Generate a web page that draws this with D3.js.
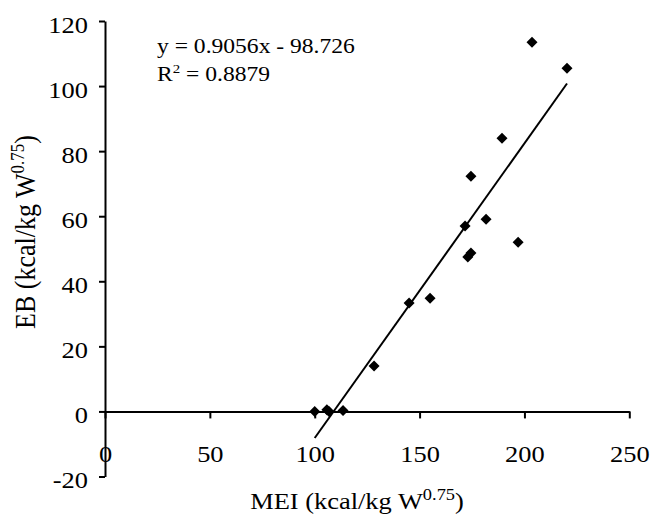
<!DOCTYPE html>
<html>
<head>
<meta charset="utf-8">
<script src="https://cdn.jsdelivr.net/npm/d3@7"></script>
<style>
  body { margin: 0; background: #fff; }
  svg { display: block; }
  text { font-family: "Liberation Serif", "Times New Roman", serif; fill: #000; }
</style>
</head>
<body>
<svg id="chart" width="651" height="515"></svg>
<script>
// MEI vs EB
const mei = [100, 105.8, 106.8, 113.5, 128.3, 145, 155, 171.7, 173, 174.5, 174.5, 181.7, 189.3, 197, 203.6, 220.3];
const eb  = [0, 0.5, 0, 0.3, 14, 33.3, 34.8, 57, 47.5, 48.7, 72.3, 59.1, 84, 52, 113.5, 105.5];

const xTicks = [0, 50, 100, 150, 200, 250];
const yTicks = [-20, 0, 20, 40, 60, 80, 100, 120];

const slope = 0.9056, intercept = -98.726;

const SX = 1.15; // the original picture is a bit wider than tall

const svg = d3.select("#chart");

const x = d3.scaleLinear().domain([0, 250]).range([105, 629.3]);
const y = d3.scaleLinear().domain([-20, 120]).range([476.5, 21]);

// plain hyphen for negatives, like the original
const fmt = d => String(d);

// y axis
const yAxis = svg.append("g")
  .attr("transform", `translate(${x(0)},0)`)
  .call(d3.axisLeft(y).tickValues(yTicks).tickSizeInner(6).tickSizeOuter(0).tickFormat(fmt));

yAxis.select(".domain").attr("stroke-width", 2);
yAxis.selectAll(".tick line").attr("stroke-width", 2);
yAxis.selectAll(".tick text")
  .attr("x", -17 / SX)
  .attr("dy", null)
  .attr("y", 11)
  .attr("transform", `scale(${SX},1)`)
  .attr("font-size", "23px");

// x axis sits on y = 0
const xAxis = svg.append("g")
  .attr("transform", `translate(0,${y(0)})`)
  .call(d3.axisBottom(x).tickValues(xTicks).tickSizeInner(7).tickSizeOuter(0).tickFormat(fmt));

xAxis.select(".domain").attr("stroke-width", 2);
xAxis.selectAll(".tick line").attr("stroke-width", 2);
xAxis.selectAll(".tick text")
  .attr("dy", null)
  .attr("y", 50.5)
  .attr("x", 0)
  .attr("transform", `scale(${SX},1)`)
  .attr("font-size", "23px");

svg.selectAll(".domain, .tick line").attr("stroke", "#000");

// trend line over the data range
const xMin = d3.min(mei), xMax = d3.max(mei);
svg.append("line")
  .attr("x1", x(xMin)).attr("y1", y(slope * xMin + intercept))
  .attr("x2", x(xMax)).attr("y2", y(slope * xMax + intercept))
  .attr("stroke", "#000")
  .attr("stroke-width", 2);

// diamond markers
const pts = mei.map((m, i) => ({ m, e: eb[i] }));
svg.selectAll(".pt")
  .data(pts)
  .enter()
  .append("path")
  .attr("class", "pt")
  .attr("d", "M0,-5.5L5.5,0L0,5.5L-5.5,0Z")
  .attr("transform", d => `translate(${x(d.m)},${y(d.e)})`)
  .attr("fill", "#000");

// equation
const eq = svg.append("g").attr("transform", `translate(157,0) scale(${SX},1)`);
eq.append("text")
  .attr("x", 0).attr("y", 53)
  .attr("font-size", "20.5px")
  .text(`y = ${slope}x - ${Math.abs(intercept)}`);
const r2 = eq.append("text")
  .attr("x", 0).attr("y", 81)
  .attr("font-size", "20.5px");
r2.append("tspan").text("R");
r2.append("tspan").attr("font-size", "13px").attr("dy", -8).text("2");
r2.append("tspan").attr("dy", 8).text(" = 0.8879");

// axis titles
const xt = svg.append("text")
  .attr("transform", `translate(357,509) scale(${SX},1)`)
  .attr("text-anchor", "middle")
  .attr("font-size", "23px");
xt.append("tspan").text("MEI (kcal/kg W");
xt.append("tspan").attr("font-size", "16px").attr("dy", -9).text("0.75");
xt.append("tspan").attr("dy", 9).text(")");

const yt = svg.append("text")
  .attr("transform", `translate(35,232) scale(${SX},1) rotate(-90)`)
  .attr("text-anchor", "middle")
  .attr("font-size", "26px");
yt.append("tspan").text("EB (kcal/kg W");
yt.append("tspan").attr("font-size", "17px").attr("dy", -10).text("0.75");
yt.append("tspan").attr("dy", 10).text(")");
</script>
</body>
</html>
